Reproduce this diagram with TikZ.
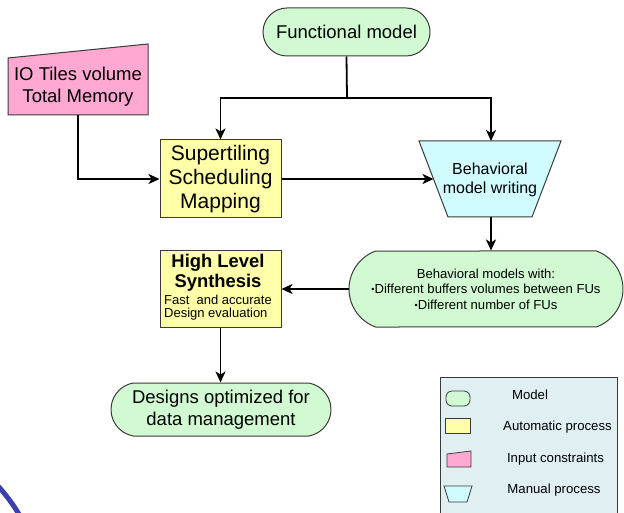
\documentclass[tikz,border=0pt]{standalone}
\usepackage{fontspec}
\setmainfont{Liberation Sans}
\usetikzlibrary{shapes.misc,arrows.meta}
\definecolor{mgreen}{HTML}{D2FAD2}
\definecolor{myellow}{HTML}{FFFFAA}
\definecolor{mpink}{HTML}{FFA8D2}
\definecolor{mcyan}{HTML}{D0FCFF}
\definecolor{legbg}{HTML}{E0EFF2}
\definecolor{bord}{HTML}{3A3A3A}
\definecolor{arcblue}{HTML}{3C40AA}
\newcommand{\smallbul}{{\fontsize{9}{9}\selectfont\raisebox{1pt}{•}}}
\tikzset{
  border/.style={draw=bord, line width=1pt},
  stadium/.style={border, fill=mgreen, rounded rectangle, inner sep=0pt, align=center},
  autobox/.style={border, fill=myellow, rectangle, inner sep=0pt, align=center},
  conn/.style={line width=1.8pt, -{Stealth[length=11pt,width=10pt,inset=3pt]}},
  plainline/.style={line width=1.8pt},
  bigtxt/.style={font=\fontsize{18.5}{22}\selectfont},
  legtxt/.style={font=\fontsize{13.2}{15}\selectfont}
}
\begin{document}
\begin{tikzpicture}[x=1pt,y=-1pt]
\useasboundingbox (0,0) rectangle (624,513);
% decorative arc
\draw[arcblue, line width=5pt] (-2,486) .. controls (6,495) and (13,504) .. (20,516);

% Functional model
\node[stadium, bigtxt, minimum width=167pt, minimum height=48pt] (fm) at (346.5,32) {Functional model};

% IO Tiles input constraint
\fill[mpink] (8,58) -- (148,44) -- (148,115) -- (8,115) -- cycle;
\draw[border] (8,58) -- (148,44) -- (148,115) -- (8,115) -- cycle;
\node[bigtxt, align=center, minimum width=140pt, minimum height=57pt, inner sep=0pt] (io) at (78,86.5) {IO Tiles volume\\[-0.5pt]Total Memory};

% Supertiling
\node[autobox, minimum width=121pt, minimum height=78pt, font=\fontsize{21}{24}\selectfont] (st) at (220.5,179) {Supertiling\\Scheduling\\Mapping};

% Behavioral model writing (manual process)
\fill[mcyan] (419,141) -- (561,141) -- (532,217) -- (448,217) -- cycle;
\draw[border] (419,141) -- (561,141) -- (532,217) -- (448,217) -- cycle;
\node[align=center, font=\fontsize{16}{19}\selectfont, inner sep=0pt] (bmw) at (490,180) {Behavioral\\model writing};
\coordinate (bmwT) at (491,141);
\coordinate (bmwB) at (491,217);
\coordinate (bmwL) at (433.5,179);

% Behavioral models
\node[stadium, rounded rectangle arc length=140, minimum width=274pt, minimum height=76pt, font=\fontsize{13.1}{15.5}\selectfont] (bm) at (486,289) {Behavioral models with:\\\smallbul Different buffers volumes between FUs\\\smallbul Different number of FUs};

% High Level Synthesis
\node[autobox, minimum width=121pt, minimum height=76pt] (hls) at (220.5,289) {};
\node[align=center, inner sep=0pt, font=\fontsize{18.4}{20}\selectfont\bfseries] (hlst) at (218,273) {High Level\\Synthesis};
\node[align=left, inner sep=0pt, font=\fontsize{13}{13.5}\selectfont] (hlsf) at (218,307.5) {Fast\ \ and accurate\\Design evaluation};

% Designs optimized
\node[stadium, rounded rectangle arc length=160, bigtxt, minimum width=220pt, minimum height=53pt] (des) at (221,409.5) {Designs optimized for\\data management};

% Connectors
\coordinate (j) at (347,98);
\draw[plainline] (fm.south) -- (j);
\draw[conn] (j) -| (st.north);
\draw[conn] (j) -| (bmwT);
\draw[conn] (io.south) |- (st.west);
\draw[conn] (st.east) -- (bmwL);
\draw[conn] (bmwB) -- (bmwB |- bm.north);
\draw[conn] (bm.west) -- (hls.east);
\draw[conn] (hls.south) -- (hls.south |- des.north);

% Legend
\node[border, fill=legbg, rectangle, minimum width=177pt, minimum height=143pt, inner sep=0pt, anchor=north west] (leg) at (440,377) {};
\node[draw=bord, line width=0.8pt, fill=mgreen, rounded corners=6pt, minimum width=24pt, minimum height=15pt, inner sep=0pt] (lm) at (458,398.5) {};
\node[legtxt, inner sep=0pt] (lmt) at (530,395) {Model};
\node[draw=bord, line width=0.8pt, fill=myellow, minimum width=25pt, minimum height=15pt, inner sep=0pt] (la) at (457.5,425.5) {};
\node[legtxt, inner sep=0pt] (lat) at (557.5,427) {Automatic process};
\filldraw[draw=bord, line width=0.8pt, fill=mpink] (447,454) -- (471,451) -- (471,467) -- (447,467) -- cycle;
\node[legtxt, inner sep=0pt] (lit) at (555.5,459) {Input constraints};
\filldraw[draw=bord, line width=0.8pt, fill=mcyan] (444,486) -- (472,486) -- (467,502) -- (449,502) -- cycle;
\node[legtxt, inner sep=0pt] (lpt) at (554,490) {Manual process};
\end{tikzpicture}
\end{document}
